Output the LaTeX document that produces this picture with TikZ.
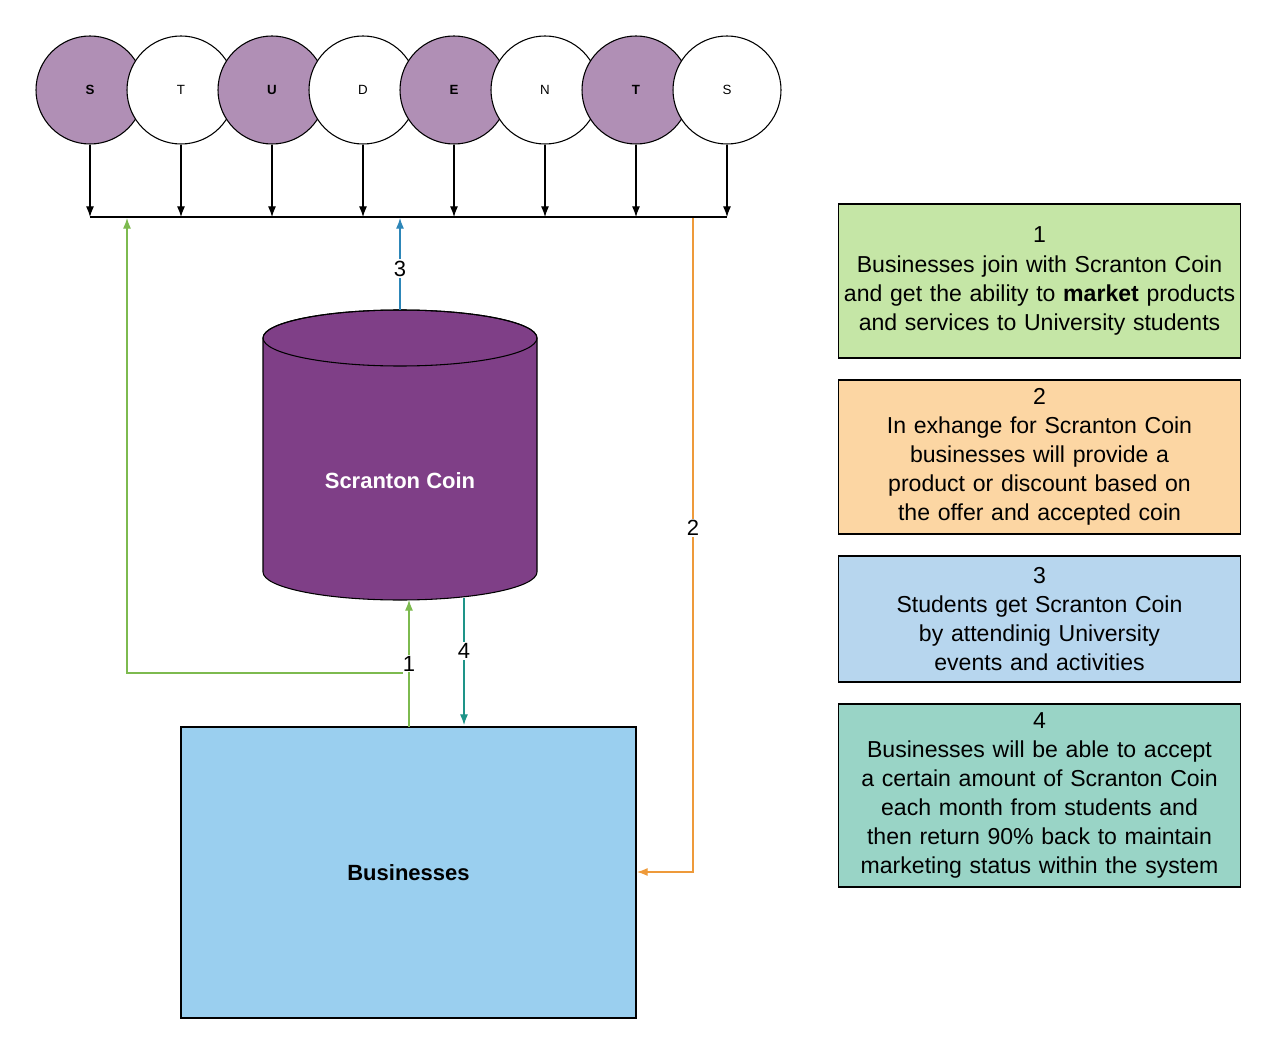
\documentclass[tikz,border=0pt]{standalone}
\usepackage{fontspec}
\setmainfont{Liberation Sans}
\usetikzlibrary{arrows.meta,shapes.geometric}
\definecolor{pur}{HTML}{B08FB5}
\definecolor{cyl}{HTML}{7F3F87}
\definecolor{biz}{HTML}{9ACFEF}
\definecolor{gA}{HTML}{C5E6A6}
\definecolor{oB}{HTML}{FCD6A3}
\definecolor{bC}{HTML}{B7D6EE}
\definecolor{tD}{HTML}{99D4C6}
\definecolor{lg}{HTML}{7DBA4F}
\definecolor{lo}{HTML}{EE9A3A}
\definecolor{lb}{HTML}{2D86B8}
\definecolor{lt}{HTML}{1E9488}
\hyphenpenalty=10000
\exhyphenpenalty=10000
\begin{document}
\begin{tikzpicture}[x=0.75pt,y=-0.75pt,line width=0.8pt,
  circ/.style={circle,draw,minimum size=108*0.75pt,inner sep=0pt,font=\fontsize{10}{12}\selectfont},
  pc/.style={circ,fill=pur,font=\fontsize{10}{12}\selectfont\bfseries},
  wc/.style={circ,fill=white},
  note/.style={draw,text width=400*0.75pt,align=center,font=\fontsize{17.3}{21.8}\selectfont,inner sep=1pt},
  lab/.style={fill=white,inner sep=1pt,font=\fontsize{16.5}{18}\selectfont},
  arr/.style={-{Latex[length=8pt,width=6pt]}}]
\useasboundingbox (0,0) rectangle (1280,1055);
\node[pc] (c1) at (90,90) {S};
\node[wc] (c2) at (181,90) {T};
\node[pc] (c3) at (272,90) {U};
\node[wc] (c4) at (363,90) {D};
\node[pc] (c5) at (454,90) {E};
\node[wc] (c6) at (545,90) {N};
\node[pc] (c7) at (636,90) {T};
\node[wc] (c8) at (727,90) {S};
\foreach \i/\x in {1/90,2/181,3/272,4/363,5/454,6/545,7/636,8/727}{
  \coordinate (b\i) at (\x,217);
  \draw[arr] (c\i.south) -- (b\i);}
\draw (b1) -- (b8);
% cylinder
\fill[cyl,draw=black] (263,338) -- (263,572) arc[start angle=180,end angle=0,x radius=137,y radius=28] -- (537,338) arc[start angle=0,end angle=-180,x radius=137,y radius=28] -- cycle;
\draw (400,338) ellipse[x radius=137,y radius=28];
\node[text=white,font=\fontsize{16.5}{20}\selectfont\bfseries] (coin) at (400,481) {Scranton Coin};
\coordinate (ctop) at (400,310);
\node[draw,fill=biz,minimum width=455*0.75pt,minimum height=291*0.75pt,font=\fontsize{16.5}{20}\selectfont\bfseries] (biz) at (408.5,872.5) {Businesses};
% 3
\coordinate (t3) at (400,218);
\draw[lb,arr] (ctop) -- (t3) node[lab,text=black,pos=0.45] {3};
% 1
\coordinate (s1) at (409,727);\coordinate (e1) at (409,600);
\draw[lg,arr] (s1) -- (e1) node[lab,text=black,pos=0.5] {1};
\coordinate (t1) at (127,218);
\draw[lg,arr] (403,673) -- (127,673) -- (t1);
% 4
\coordinate (s4) at (464,598);\coordinate (e4) at (464,725);
\draw[lt,arr] (s4) -- (e4) node[lab,text=black,pos=0.42] {4};
% 2
\coordinate (s2) at (693,218);\coordinate (e2) at (637,872);
\draw[lo,arr] (s2) -- (693,872) -- (e2);
\node[lab] at (693,528) {2};
% notes
\node[note,fill=gA,minimum height=154*0.75pt] (n1) at (1039.5,281) {1\\Businesses join with Scranton Coin and get the ability to \textbf{market} products and services to University students};
\node[note,fill=oB,minimum height=154*0.75pt] (n2) at (1039.5,457) {2\\In exhange for Scranton Coin businesses will provide a product or discount based on the offer and accepted coin};
\node[note,fill=bC,minimum height=126*0.75pt] (n3) at (1039.5,619) {3\\Students get Scranton Coin by attendinig University events and activities};
\node[note,fill=tD,minimum height=183*0.75pt] (n4) at (1039.5,795.5) {4\\Businesses will be able to accept a certain amount of Scranton Coin each month from students and then return 90\% back to maintain marketing status within the system};
\end{tikzpicture}
\end{document}
